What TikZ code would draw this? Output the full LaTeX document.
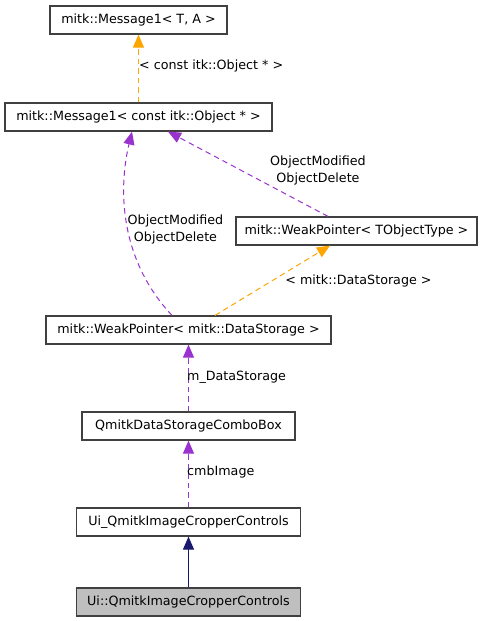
\documentclass[tikz,border=0pt]{standalone}
\usepackage{fontspec}
\setmainfont{DejaVu Sans}
\usetikzlibrary{arrows.meta}
\definecolor{orangeC}{RGB}{255,165,0}
\definecolor{purp}{RGB}{154,50,205}
\definecolor{navyC}{RGB}{25,25,112}
\definecolor{boxline}{RGB}{64,64,64}
\definecolor{greyfill}{RGB}{191,191,191}
\begin{document}
\begin{tikzpicture}[x=1pt,y=-1pt,
  cls/.style={draw=boxline, line width=1.2pt, minimum height=28pt, inner sep=0pt,
    font=\fontsize{12.7}{15}\selectfont, anchor=center},
  lbl/.style={font=\fontsize{12.7}{17}\selectfont, inner sep=0pt, align=center},
  dep/.style={dash pattern=on 5.5pt off 4pt, line width=1pt},
  tip/.style={-{Triangle[length=13pt,width=11pt]}},
]
\useasboundingbox (0,0) rectangle (481,621);
\node[cls, minimum width=177pt] (b1) at (138.5,20) {mitk::Message1< T, A >};
\node[cls, minimum width=267pt] (b2) at (138.5,117) {mitk::Message1< const itk::Object * >};
\node[cls, minimum width=241pt] (b3) at (356.5,231) {mitk::WeakPointer< TObjectType >};
\node[cls, minimum width=285pt] (b4) at (188.5,330) {mitk::WeakPointer< mitk::DataStorage >};
\node[cls, minimum width=213pt] (b5) at (188.5,426) {QmitkDataStorageComboBox};
\node[cls, minimum width=224pt] (b6) at (188.5,522) {Ui\_QmitkImageCropperControls};
\node[cls, minimum width=224pt, fill=greyfill] (b7) at (188.5,602) {Ui::QmitkImageCropperControls};

\draw[dep, tip, orangeC] (b2.north) -- (b1.south);
\draw[dep, tip, purp] ([xshift=-16.5pt]b4.north) .. controls (120,260) and (118,190) .. ([xshift=-6.5pt]b2.south);
\draw[dep, tip, purp] ([xshift=-28.5pt]b3.north) -- ([xshift=29.5pt]b2.south);
\draw[dep, tip, orangeC] ([xshift=26.5pt]b4.north) -- ([xshift=-26.5pt]b3.south);
\draw[dep, tip, purp] (b5.north) -- (b4.south);
\draw[dep, tip, purp] (b6.north) -- (b5.south);
\draw[tip, navyC, line width=1pt] (b7.north) -- (b6.south);

\node[lbl, anchor=west] (l1) at (139,66) {< const itk::Object * >};
\node[lbl] (l2) at (318,170.5) {ObjectModified\\ObjectDelete};
\node[lbl] (l3) at (175.5,229.5) {ObjectModified\\ObjectDelete};
\node[lbl] (l4) at (358.5,281) {< mitk::DataStorage >};
\node[lbl, anchor=west] (l5) at (187,377) {m\_DataStorage};
\node[lbl, anchor=west] (l6) at (187,472) {cmbImage};
\end{tikzpicture}
\end{document}
